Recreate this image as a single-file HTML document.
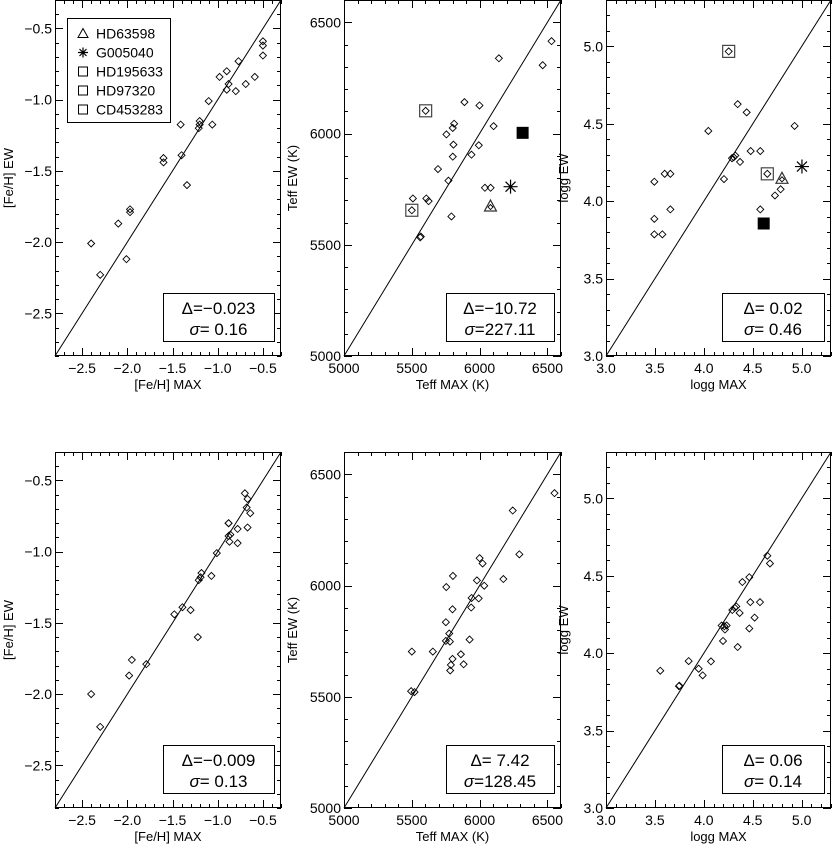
<!DOCTYPE html>
<html><head><meta charset="utf-8"><style>
html,body{margin:0;padding:0;background:#fff;}
svg{display:block;font-family:"Liberation Sans",sans-serif;}
</style></head><body>
<svg id="fig" width="832" height="851" viewBox="0 0 832 851" xmlns="http://www.w3.org/2000/svg"></svg>
<script>
// ---- data (x = MAX, y = EW) ----
const fehTopX = [-2.40,-2.30,-2.10,-2.01,-1.97,-1.97,-1.60,-1.60,-1.41,-1.40,-1.34,-1.20,-1.20,-1.21,-1.10,-1.06,-0.98,-0.90,-0.90,-0.88,-0.80,-0.77,-0.69,-0.59,-0.50,-0.50,-0.50];
const fehTopY = [-2.01,-2.23,-1.87,-2.12,-1.77,-1.79,-1.41,-1.44,-1.175,-1.39,-1.60,-1.15,-1.175,-1.20,-1.01,-1.175,-0.84,-0.80,-0.93,-0.89,-0.94,-0.73,-0.89,-0.84,-0.59,-0.62,-0.69];
const teffTopX = [6530,6465,6142,5888,5999,6103,5812,5802,5755,5807,5994,5940,5802,5693,5770,5607,5624,5508,6039,6081,5792,5562,5566,5500,5602];
const teffTopY = [6415,6307,6338,6141,6126,6033,6044,6025,5996,5950,5947,5905,5896,5840,5788,5708,5696,5708,5756,5756,5627,5533,5537,5655,6102];
const loggTopX = [4.254,4.346,4.438,4.046,4.928,4.479,4.577,4.288,4.322,4.305,4.37,4.206,3.494,3.60,3.658,4.649,4.785,4.727,4.577,3.658,3.494,3.494,3.576];
const loggTopY = [4.968,4.627,4.574,4.454,4.486,4.324,4.324,4.278,4.295,4.284,4.254,4.143,4.126,4.177,4.177,4.177,4.077,4.037,3.947,3.947,3.886,3.786,3.786];
// special stars: [triangle HD63598, asterisk G005040, filled square]
const teffSpecialX = [6080,6228,6317];
const teffSpecialY = [5674,5761,6003];
const teffBoxedX = [5500,5602];
const teffBoxedY = [5655,6102];
const loggSpecialX = [4.799,5.003,4.612];
const loggSpecialY = [4.148,4.224,3.856];
const loggBoxedX = [4.254,4.649];
const loggBoxedY = [4.968,4.177];

const fehBotX = [-2.40,-2.30,-1.98,-1.95,-1.79,-1.48,-1.39,-1.30,-1.22,-1.21,-1.19,-1.18,-1.07,-1.01,-0.88,-0.88,-0.87,-0.86,-0.78,-0.78,-0.70,-0.67,-0.68,-0.67,-0.64,-0.88];
const fehBotY = [-2.00,-2.23,-1.87,-1.76,-1.79,-1.44,-1.39,-1.41,-1.60,-1.20,-1.18,-1.15,-1.17,-1.01,-0.80,-0.89,-0.93,-0.88,-0.84,-0.94,-0.59,-0.63,-0.69,-0.83,-0.73,-0.80];
const teffBotX = [6552,6244,6293,6000,6022,5803,6175,5980,5754,6034,5941,5993,5938,5800,5751,5776,5751,5781,5926,5500,5655,5862,5800,5788,5783,5882,5495,5520];
const teffBotY = [6415,6337,6140,6123,6099,6043,6029,6023,5993,5999,5944,5942,5901,5893,5835,5784,5751,5748,5757,5703,5703,5691,5670,5643,5618,5646,5525,5521];
const loggBotX = [3.555,3.746,3.75,3.845,3.947,3.988,4.073,4.196,4.182,4.21,4.233,4.216,4.291,4.315,4.332,4.366,4.394,4.465,4.346,4.465,4.475,4.519,4.574,4.649,4.676];
const loggBotY = [3.887,3.787,3.79,3.949,3.900,3.857,3.947,4.079,4.179,4.174,4.179,4.153,4.279,4.294,4.302,4.260,4.460,4.491,4.040,4.160,4.330,4.230,4.330,4.63,4.58];

const fehTicks = [-2.5,-2.0,-1.5,-1.0,-0.5];
const teffTicks = [5000,5500,6000,6500];
const loggTicks = [3.0,3.5,4.0,4.5,5.0];
const legendLabels = ["HD63598","G005040","HD195633","HD97320","CD453283"];
const statsText = [["−0.023"," 0.16"],["−10.72","227.11"],[" 0.02"," 0.46"],
                   ["−0.009"," 0.13"],["   7.42","128.45"],[" 0.06"," 0.14"]];

const NS = "http://www.w3.org/2000/svg";
const svg = document.getElementById('fig');
function mk(tag, attrs, parent){
  const e = document.createElementNS(NS, tag);
  for (const k in attrs) e.setAttribute(k, attrs[k]);
  (parent||svg).appendChild(e);
  return e;
}
function fmt(v, dec){ const s = Math.abs(v).toFixed(dec); return (v<0?"\u2212":"")+s; }

function panel(cfg){
  const g = mk('g', {});
  
  
  const L=cfg.x0,R=cfg.x1,T=cfg.y0,B=cfg.y1;
  const sx = v => L + (v-cfg.xr[0])/(cfg.xr[1]-cfg.xr[0])*(R-L);
  const sy = v => B - (v-cfg.yr[0])/(cfg.yr[1]-cfg.yr[0])*(B-T);
  const fr = mk('rect', {x:L+0.5,y:T+0.5,width:R-L-1,height:B-T-1,fill:'none',stroke:'#000','stroke-width':1}, g);
  
  
  let p = "";
  const n = Math.round((cfg.xr[1]-cfg.xr[0])/cfg.minor);
  for (let i=0;i<=n;i++){
    const v = cfg.xr[0]+i*cfg.minor;
    const maj = cfg.ticks.some(t=>Math.abs(t-v)<cfg.minor/10);
    const len = maj?8:4; const x = Math.round(sx(v))+0.5;
    p += `M${x},${B}v${-len}M${x},${T}v${len}`;
    const y = Math.round(sy(v))+0.5;
    p += `M${L},${y}h${len}M${R},${y}h${-len}`;
  }
  const tk = mk('path', {d:p, stroke:'#000','stroke-width':1, fill:'none'}, g);
  
  
  cfg.ticks.forEach(t=>{
    const xl = mk('text', {x:sx(t), y:B+17, 'font-size':14, 'text-anchor':'middle', fill:'#000'}, g);
    xl.textContent = fmt(t, cfg.dec);
    
    
    const yl = mk('text', {x:L-3, y:sy(t)+5, 'font-size':14, 'text-anchor':'end', fill:'#000'}, g);
    yl.textContent = fmt(t, cfg.dec);
    
    
  });
  const xt = mk('text', {x:(L+R)/2, y:B+33, 'font-size':13, 'text-anchor':'middle', fill:'#000'}, g);
  xt.textContent = cfg.xtitle;
  
  
  const yt = mk('text', {x:0, y:0, 'font-size':13, 'text-anchor':'middle', fill:'#000',
     transform:`translate(${cfg.ytx},${(T+B)/2}) rotate(-90)`}, g);
  yt.textContent = cfg.ytitle;
  
  
  const ln = mk('line', {x1:sx(cfg.xr[0]), y1:sy(cfg.yr[0]), x2:sx(cfg.xr[1]), y2:sy(cfg.yr[1]), stroke:'#000','stroke-width':1}, g);
  
  
  cfg.xs.forEach((xv,i)=>{
    const cx=sx(xv), cy=sy(cfg.ys[i]);
    const d = mk('path', {d:`M${cx-3.5},${cy}L${cx},${cy-3.5}L${cx+3.5},${cy}L${cx},${cy+3.5}Z`, fill:'none', stroke:'#000','stroke-width':0.9}, g);
    
    
  });
  if (cfg.bx){
    cfg.bx.forEach((xv,i)=>{
      const cx=sx(xv), cy=sy(cfg.by[i]);
      const b = mk('rect', {x:cx-6, y:cy-6, width:12, height:12, fill:'none', stroke:'#444','stroke-width':1.2}, g);
      
      
    });
  }
  if (cfg.spx){
    let cx=sx(cfg.spx[0]), cy=sy(cfg.spy[0]);
    const tr = mk('path', {d:`M${cx-6},${cy+5}L${cx},${cy-6}L${cx+6},${cy+5}Z`, fill:'none', stroke:'#333','stroke-width':1.2}, g);
    
    
    mk('path', {d:`M${cx-2.5},${cy+1}L${cx},${cy-1.5}L${cx+2.5},${cy+1}L${cx},${cy+3.5}Z`, fill:'none', stroke:'#000','stroke-width':0.9}, g);
    cx=sx(cfg.spx[1]); cy=sy(cfg.spy[1]);
    const as = mk('path', {d:`M${cx-7},${cy}h14M${cx},${cy-7}v14M${cx-5},${cy-5}l10,10M${cx-5},${cy+5}l10,-10`, stroke:'#000','stroke-width':1.2}, g);
    
    
    cx=sx(cfg.spx[2]); cy=sy(cfg.spy[2]);
    const fs = mk('rect', {x:cx-6, y:cy-6, width:12, height:12, fill:'#000'}, g);
    
    
  }
  const bw = cfg.bw;
  const bxL = R-7-bw, bxT = B-63;
  const sb = mk('rect', {x:bxL+0.5, y:bxT+0.5, width:bw, height:48, fill:'#fff', stroke:'#000','stroke-width':1}, g);
  
  
  const t1 = mk('text', {x:bxL+bw/2, y:bxT+21, 'font-size':17, 'text-anchor':'middle', fill:'#000', 'xml:space':'preserve'}, g);
  t1.textContent = "Δ=" + cfg.stats[0];
  
  
  const t2 = mk('text', {x:bxL+bw/2, y:bxT+42, 'font-size':17, 'text-anchor':'middle', fill:'#000', 'xml:space':'preserve'}, g);
  const sg = mk('tspan', {'font-style':'italic'}, t2);
  sg.textContent = "σ";
  const sv = mk('tspan', {}, t2);
  sv.textContent = "=" + cfg.stats[1];
  
  
}

const rows = [{T:0,B:356},{T:452,B:808}];
[0,1].forEach(r=>{
  const T=rows[r].T, B=rows[r].B;
  panel({name: r?'feh-panel-bottom':'feh-panel-top', x0:55,x1:281,y0:T,y1:B, xr:[-2.8,-0.3], yr:[-2.8,-0.3],
    minor:0.1, ticks:fehTicks, dec:1, xtitle:'[Fe/H] MAX', ytitle:'[Fe/H] EW', ytx:13,
    xs: r?fehBotX:fehTopX, ys: r?fehBotY:fehTopY, bw:111, stats:statsText[r*3]});
  panel({name: r?'teff-panel-bottom':'teff-panel-top', x0:344,x1:561,y0:T,y1:B, xr:[5000,6600], yr:[5000,6600],
    minor:100, ticks:teffTicks, dec:0, xtitle:'Teff MAX (K)', ytitle:'Teff EW (K)', ytx:297,
    xs: r?teffBotX:teffTopX, ys: r?teffBotY:teffTopY, bw:108, stats:statsText[r*3+1],
    bx: r?null:teffBoxedX, by: r?null:teffBoxedY, spx: r?null:teffSpecialX, spy: r?null:teffSpecialY});
  panel({name: r?'logg-panel-bottom':'logg-panel-top', x0:606,x1:831,y0:T,y1:B, xr:[3.0,5.3], yr:[3.0,5.3],
    minor:0.1, ticks:loggTicks, dec:1, xtitle:'logg MAX', ytitle:'logg EW', ytx:568,
    xs: r?loggBotX:loggTopX, ys: r?loggBotY:loggTopY, bw:102, stats:statsText[r*3+2],
    bx: r?null:loggBoxedX, by: r?null:loggBoxedY, spx: r?null:loggSpecialX, spy: r?null:loggSpecialY});
});

const lg = mk('g', {});


const lb = mk('rect', {x:67.5, y:18.5, width:103, height:104, fill:'#fff', stroke:'#000','stroke-width':1}, lg);


legendLabels.forEach((lab,i)=>{
  const cy = 33.5 + i*19, cx = 83;
  let s;
  if (i===0) s = mk('path', {d:`M${cx-5},${cy+4}L${cx},${cy-5}L${cx+5},${cy+4}Z`, fill:'none', stroke:'#000','stroke-width':1}, lg);
  else if (i===1) s = mk('path', {d:`M${cx-5},${cy}h10M${cx},${cy-5}v10M${cx-3.5},${cy-3.5}l7,7M${cx-3.5},${cy+3.5}l7,-7`, stroke:'#000','stroke-width':1.2}, lg);
  else s = mk('rect', {x:cx-4.5, y:cy-4.5, width:9, height:9, fill:'none', stroke:'#000','stroke-width':1}, lg);
  
  
  const t = mk('text', {x:96, y:cy+5, 'font-size':14, fill:'#000'}, lg);
  t.textContent = lab;
  
  
});
</script>
</body></html>
